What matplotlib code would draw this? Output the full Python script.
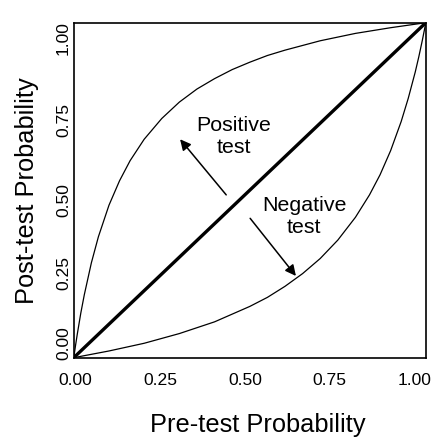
import matplotlib
matplotlib.use("Agg")
import matplotlib.pyplot as plt

plt.rcParams['font.family'] = ['Liberation Sans', 'DejaVu Sans']

# curva de test positivo
pos_pre = [0.0, 0.005, 0.01, 0.02, 0.03, 0.05, 0.07, 0.10, 0.13, 0.16, 0.20,
           0.25, 0.30, 0.35, 0.40, 0.45, 0.50, 0.55, 0.60, 0.70, 0.80, 0.90, 1.0]
pos_post = [0.0, 0.036, 0.070, 0.133, 0.188, 0.283, 0.361, 0.455, 0.528,
            0.588, 0.652, 0.714, 0.763, 0.802, 0.833, 0.860, 0.882, 0.902,
            0.918, 0.946, 0.968, 0.985, 1.0]

# curva de test negativo
neg_pre = [0.0, 0.10, 0.20, 0.30, 0.40, 0.50, 0.55, 0.60, 0.65, 0.70, 0.75,
           0.80, 0.84, 0.87, 0.90, 0.93, 0.95, 0.97, 0.98, 0.99, 1.0]
neg_post = [0.0, 0.020, 0.043, 0.072, 0.107, 0.153, 0.180, 0.213, 0.251,
            0.296, 0.351, 0.419, 0.486, 0.546, 0.618, 0.705, 0.774, 0.853,
            0.898, 0.947, 1.0]

tick_labels = ['0.00', '0.25', '0.50', '0.75', '1.00']

fig = plt.figure(figsize=(4.39, 4.43), dpi=100)
ax = fig.add_axes([0.168, 0.1926, 0.802, 0.7562])

# diagonal
ax.plot([0, 1], [0, 1], color='black', lw=2.4, solid_capstyle='butt')
# curvas
ax.plot(pos_pre, pos_post, color='black', lw=0.9)
ax.plot(neg_pre, neg_post, color='black', lw=0.9)

ax.set_xlim(0, 1)
ax.set_ylim(0, 1)

# posiciones de las etiquetas tal como aparecen en la imagen
ax.set_xticks([0.004, 0.245, 0.487, 0.727, 0.967])
ax.set_xticklabels(tick_labels, fontsize=12.6)
ax.set_yticks([0.044, 0.253, 0.47, 0.709, 0.954])
ax.set_yticklabels(tick_labels, fontsize=12.6, rotation=90, va='center')
ax.tick_params(axis='x', length=0, pad=11)
ax.tick_params(axis='y', length=0, pad=2)
for s in ax.spines.values():
    s.set_linewidth(1.2)

# flechas y textos
flecha = dict(arrowstyle='-|>', color='black', lw=1.1, mutation_scale=16,
              shrinkA=0, shrinkB=0)
ax.annotate('', xy=(0.302, 0.652), xytext=(0.433, 0.486), arrowprops=flecha)
ax.annotate('', xy=(0.631, 0.244), xytext=(0.501, 0.416), arrowprops=flecha)
ax.text(0.455, 0.659, 'Positive\ntest', fontsize=15.4, ha='center', va='center')
ax.text(0.654, 0.42, 'Negative\ntest', fontsize=15.4, ha='center', va='center')

fig.text(0.5866, 0.0406, 'Pre-test Probability', fontsize=18.3,
         ha='center', va='center')
fig.text(0.061, 0.57, 'Post-test Probability', fontsize=18.3,
         ha='center', va='center', rotation=90)

fig.savefig('out.png', dpi=100)
